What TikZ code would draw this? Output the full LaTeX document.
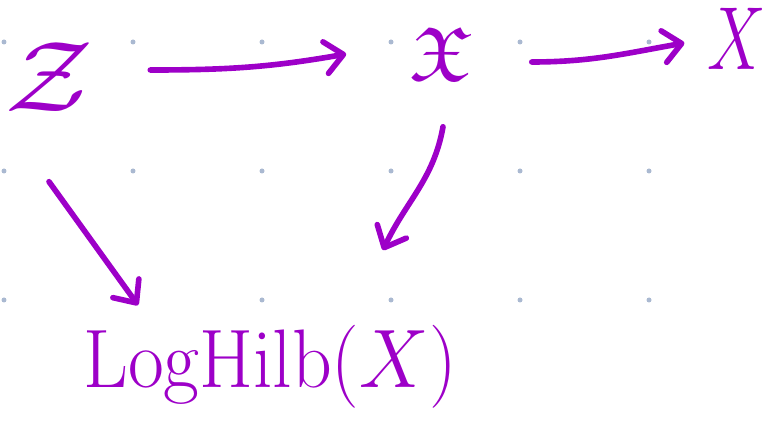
\documentclass[tikz,border=0pt]{standalone}
\usepackage{amsmath}
\usepackage{amssymb}
\usepackage{graphicx}
\usetikzlibrary{arrows.meta}
\definecolor{ink}{RGB}{157,0,200}
\definecolor{dotgray}{RGB}{170,185,209}

\begin{document}
\begin{tikzpicture}[
  x=0.02cm,y=-0.02cm,
  obj/.style={text=ink, inner sep=0pt, font=\Huge},
  map/.style={-{Straight Barb[length=3.6mm,width=6.4mm,round]}, line width=3.2pt, line cap=round, line join=round, draw=ink}
]
\useasboundingbox (0,0) rectangle (765,422);

% grid dots
\foreach \i in {0,...,5}
  \foreach \j in {0,...,2}
    \fill[dotgray] (4+129*\i,42+129*\j) circle[radius=0.05cm];

\node[obj] (Z) at (49,77) {\scalebox{2.5}[2.3]{$\mathcal{Z}$}};
\node[obj] (frakX) at (441,54) {\scalebox{2.0}[1.75]{$\mathfrak{X}$}};
\node[obj] (X) at (737,39) {\scalebox{1.5}[2.05]{$X$}};
\node[obj] (hilb) at (270,367) {\scalebox{1.78}[1.9]{$\mathrm{LogHilb}(X)$}};

\draw[map] ([xshift=1.14cm,yshift=0.14cm]Z.east) to[out=0,in=190] ([xshift=-1.26cm]frakX.west);
\draw[map] ([xshift=1.18cm,yshift=-0.16cm]frakX.east) to[out=0,in=190] ([xshift=-0.46cm,yshift=-0.08cm]X.west);
\draw[map] ([yshift=-1.4cm]Z.south) -- ([xshift=1.1cm,yshift=0.4cm]hilb.north west);
\draw[map] ([xshift=0.04cm,yshift=-0.92cm]frakX.south) to[out=-100,in=65] ([xshift=2.26cm,yshift=1.5cm]hilb.north);
\end{tikzpicture}
\end{document}
